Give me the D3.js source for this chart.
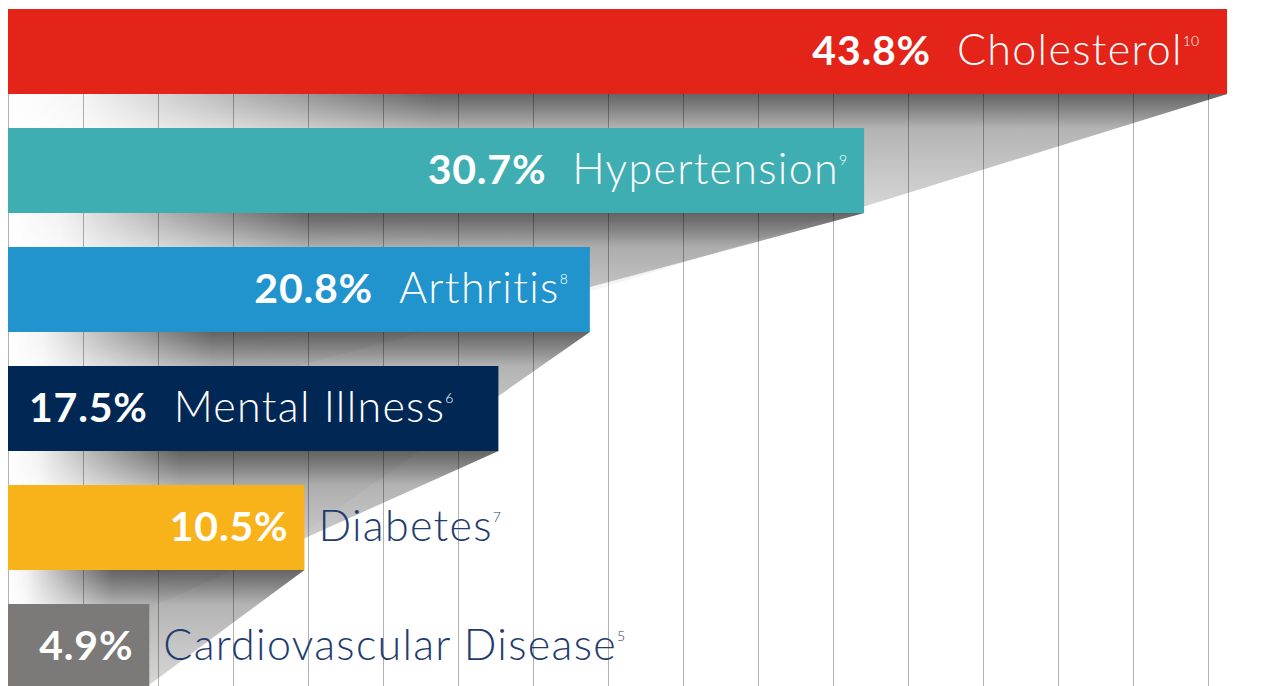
<!DOCTYPE html>
<html><head><meta charset="utf-8">
<script src="https://cdn.jsdelivr.net/npm/d3@7"></script>
<style>html,body{margin:0;padding:0;background:#fff;}svg{display:block;}</style>
</head><body>
<svg id="chart" width="1275" height="686"></svg>
<script>
// ---- data ----
const categories = ["Cholesterol","Hypertension","Arthritis","Mental Illness","Diabetes","Cardiovascular Disease"];
const values = [43.8, 30.7, 20.8, 17.5, 10.5, 4.9];
const footnotes = ["10","9","8","6","7","5"];
// ---- style ----
const barColors = ["#e42419","#3faeb3","#2193cd","#012855","#f8b31a","#7b7a78"];
const shadowSlope = [0.31, 0.27, 0.7, 0.45, 0.74, 0.74];
const labelInset = [28, 17, 22, 45, 16, 16];
const FONT = "Lato, 'Open Sans', sans-serif";

const W = 1275, H = 686;
const svg = d3.select("#chart");
const x = d3.scaleLinear().domain([-0.2, 44]).range([8, 1232.6]);
const y = d3.scaleBand().domain(categories).range([9, 689]).paddingInner(0.2857).paddingOuter(0);
const gridX = d3.scaleLinear().domain([0, 16]).range([8.5, 1208.5]);
const x0 = x.range()[0];

const data = categories.map((c, i) => ({c, v: values[i], fn: footnotes[i], color: barColors[i], i}));
const defs = svg.append("defs");

// left fade for shadows
const hf = defs.append("linearGradient").attr("id","hfade").attr("x1",0).attr("x2",1).attr("y1",0).attr("y2",0);
hf.append("stop").attr("offset",0).attr("stop-color","#000");
hf.append("stop").attr("offset",0.06).attr("stop-color","#111");
hf.append("stop").attr("offset",0.35).attr("stop-color","#fff");
hf.append("stop").attr("offset",1).attr("stop-color","#fff");

const D = 200;
const shadowG = svg.append("g");
data.slice(0, data.length - 1).forEach(d => {
  const yb = y(d.c) + y.bandwidth();
  const xr = x(d.v);
  const sR = shadowSlope[d.i];
  let pts;
  const xe = xr - D / sR;
  if (xe > x0) pts = [[x0, yb], [xr, yb], [xe, yb + D], [x0, yb + D]];
  else pts = [[x0, yb], [xr, yb], [x0, yb + sR * (xr - x0)]];
  const m = defs.append("mask").attr("id", "m" + d.i);
  m.append("rect").attr("x", x0).attr("y", yb).attr("width", xr - x0).attr("height", D + 2).attr("fill", "url(#hfade)");
  const bg = defs.append("linearGradient").attr("id","b"+d.i).attr("gradientUnits","userSpaceOnUse")
    .attr("x1",0).attr("x2",0).attr("y1",yb).attr("y2",yb+D);
  bg.append("stop").attr("offset",0).attr("stop-color","#8a8a8a").attr("stop-opacity",0.8);
  bg.append("stop").attr("offset",0.5).attr("stop-color","#b0b0b0").attr("stop-opacity",0.6);
  bg.append("stop").attr("offset",1).attr("stop-color","#d0d0d0").attr("stop-opacity",0.15);
  const cg = defs.append("linearGradient").attr("id","c"+d.i).attr("gradientUnits","userSpaceOnUse")
    .attr("x1",0).attr("x2",0).attr("y1",yb).attr("y2",yb+34);
  cg.append("stop").attr("offset",0).attr("stop-color","#333").attr("stop-opacity",0.55);
  cg.append("stop").attr("offset",1).attr("stop-color","#333").attr("stop-opacity",0);
  const g = shadowG.append("g").attr("mask", "url(#m" + d.i + ")");
  const p = pts.map(q => q.join(",")).join(" ");
  g.append("polygon").attr("points", p).attr("fill", "url(#b" + d.i + ")");
  g.append("polygon").attr("points", p).attr("fill", "url(#c" + d.i + ")");
});

// grid lines
svg.append("g").selectAll("line").data(d3.range(17)).join("line")
  .attr("x1", d => gridX(d)).attr("x2", d => gridX(d))
  .attr("y1", y.range()[0] + 2).attr("y2", H)
  .attr("stroke", "rgba(0,0,0,0.3)").attr("stroke-width", 1);

// bars
svg.append("g").selectAll("rect").data(data).join("rect")
  .attr("x", x0).attr("y", d => y(d.c))
  .attr("width", d => x(d.v) - x0).attr("height", y.bandwidth())
  .attr("fill", d => d.color);

// labels
const FS = 41, FSN = 43, SUP = 14, GAP = 26, MIN_PAD = 12;
const lab = svg.append("g").attr("font-family", FONT);
data.forEach(d => {
  const base = y(d.c) + y.bandwidth() / 2 + 13.5;
  const xr = x(d.v);
  const t = lab.append("text").attr("y", base).attr("font-size", FS);
  t.append("tspan").attr("font-weight", 700).attr("letter-spacing", 0.8).text(d.v.toFixed(1) + "%");
  t.append("tspan").attr("dx", GAP).attr("font-size", FSN).attr("font-weight", 300).attr("letter-spacing", 1.3).text(d.c);
  t.append("tspan").attr("dy", -19).attr("font-size", SUP).attr("font-weight", 300).attr("letter-spacing", 0).text(d.fn);
  const w = t.node().getComputedTextLength();
  if (w + 2 * MIN_PAD < xr - x0) {
    t.attr("x", xr - labelInset[d.i]).attr("text-anchor", "end").attr("fill", "#fff");
  } else {
    t.remove();
    lab.append("text").attr("x", xr - labelInset[d.i]).attr("y", base).attr("text-anchor", "end")
      .attr("font-size", FS).attr("font-weight", 700).attr("letter-spacing", 0.8).attr("fill", "#fff").text(d.v.toFixed(1) + "%");
    const t2 = lab.append("text").attr("x", xr + 14).attr("y", base).attr("font-size", FSN).attr("fill", "#1f3c70");
    t2.append("tspan").attr("font-weight", 300).attr("letter-spacing", 1.3).text(d.c);
    t2.append("tspan").attr("dy", -19).attr("font-size", SUP).attr("font-weight", 300).text(d.fn);
  }
});
</script>
</body></html>
